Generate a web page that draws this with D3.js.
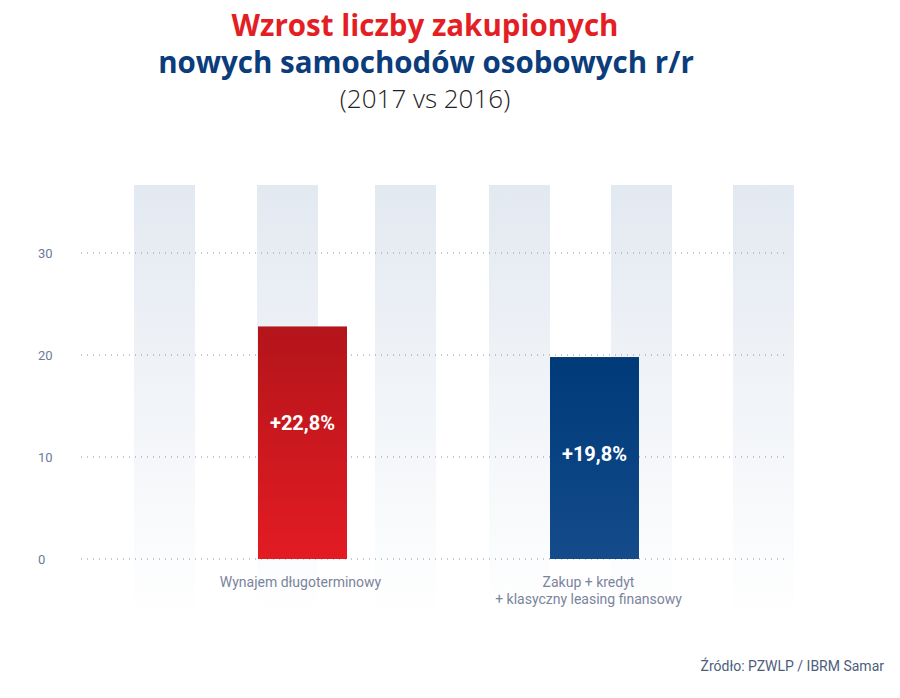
<!DOCTYPE html>
<html>
<head>
<meta charset="utf-8">
<script src="https://cdn.jsdelivr.net/npm/d3@7"></script>
<style>
  body { margin: 0; background: #fff; }
  svg { display: block; font-family: Roboto, "Noto Sans", sans-serif; }
</style>
</head>
<body>
<div id="chart"></div>
<script>
// data
let categories = ["Wynajem długoterminowy", "Zakup + kredyt\n+ klasyczny leasing finansowy"]
let values = [22.8, 19.8]
let valueLabels = ["+22,8%", "+19,8%"]
let yTicks = [0, 10, 20, 30]

let width = 900, height = 698

let svg = d3.select("#chart")
    .append("svg")
    .attr("width", width)
    .attr("height", height)

let defs = svg.append("defs")

function grad(id, top, bottom) {
    let g = defs.append("linearGradient")
        .attr("id", id)
        .attr("x1", 0).attr("y1", 0).attr("x2", 0).attr("y2", 1)
    g.append("stop").attr("offset", "0%").attr("stop-color", top)
    g.append("stop").attr("offset", "100%").attr("stop-color", bottom)
}
grad("stripe", "#e3e9f1", "#ffffff")
grad("red", "#b3151a", "#e31b23")
grad("blue", "#003a79", "#134b8b")

let y = d3.scaleLinear().domain([0, 30]).range([559, 253])

// background stripes
let stripeLeft = [134, 257, 375, 489, 611, 733]
svg.append("g").selectAll("rect")
    .data(stripeLeft)
    .enter()
    .append("rect")
    .attr("x", d => d)
    .attr("y", 185)
    .attr("width", 61)
    .attr("height", 432)
    .attr("fill", "url(#stripe)")

// dotted gridlines
svg.append("g").selectAll("line")
    .data(yTicks)
    .enter()
    .append("line")
    .attr("x1", 81)
    .attr("x2", 785)
    .attr("y1", d => y(d))
    .attr("y2", d => y(d))
    .attr("stroke", "#8c93a0")
    .attr("stroke-width", 1)
    .attr("stroke-dasharray", "1,5")

svg.append("g").selectAll("text")
    .data(yTicks)
    .enter()
    .append("text")
    .attr("x", 38)
    .attr("y", d => y(d) + 4.5)
    .attr("font-size", 13)
    .attr("fill", "#6c7b9a")
    .text(d => d)

// bars
let barX = [258, 550]
let labelShift = [-2, -6]
let colors = ["url(#red)", "url(#blue)"]
let bars = svg.append("g").selectAll("g")
    .data(values)
    .enter()
    .append("g")

bars.append("rect")
    .attr("x", (d, i) => barX[i])
    .attr("y", d => y(d))
    .attr("width", 89)
    .attr("height", d => y(0) - y(d))
    .attr("fill", (d, i) => colors[i])

bars.append("text")
    .attr("x", (d, i) => barX[i] + 44.5)
    .attr("y", d => y(d) + 104)
    .attr("text-anchor", "middle")
    .attr("font-size", 20)
    .attr("font-weight", "bold")
    .attr("fill", "#fff")
    .text((d, i) => valueLabels[i])

// category labels
bars.append("text")
    .attr("text-anchor", "middle")
    .attr("font-size", 14)
    .attr("fill", "#7a849c")
    .each(function (d, i) {
        let lines = categories[i].split("\n")
        d3.select(this).selectAll("tspan")
            .data(lines)
            .enter()
            .append("tspan")
            .attr("x", barX[i] + 44.5 + labelShift[i])
            .attr("y", (l, j) => 587 + j * 17)
            .text(l => l)
    })

// titles
svg.append("text")
    .attr("x", 425).attr("y", 36)
    .attr("text-anchor", "middle")
    .attr("font-family", "'Open Sans', sans-serif")
    .attr("font-size", 29.5)
    .attr("font-weight", "bold")
    .attr("fill", "#e31e24")
    .text("Wzrost liczby zakupionych")

svg.append("text")
    .attr("x", 426).attr("y", 73)
    .attr("text-anchor", "middle")
    .attr("font-family", "'Open Sans', sans-serif")
    .attr("font-size", 29.5)
    .attr("font-weight", "bold")
    .attr("fill", "#0b3c7b")
    .text("nowych samochodów osobowych r/r")

svg.append("text")
    .attr("x", 425).attr("y", 108)
    .attr("text-anchor", "middle")
    .attr("font-family", "'Open Sans', sans-serif")
    .attr("font-size", 26)
    .attr("font-weight", 300)
    .attr("fill", "#222")
    .text("(2017 vs 2016)")

svg.append("text")
    .attr("x", 884).attr("y", 671)
    .attr("text-anchor", "end")
    .attr("font-size", 14)
    .attr("fill", "#4d5d7c")
    .text("Źródło: PZWLP / IBRM Samar")
</script>
</body>
</html>
